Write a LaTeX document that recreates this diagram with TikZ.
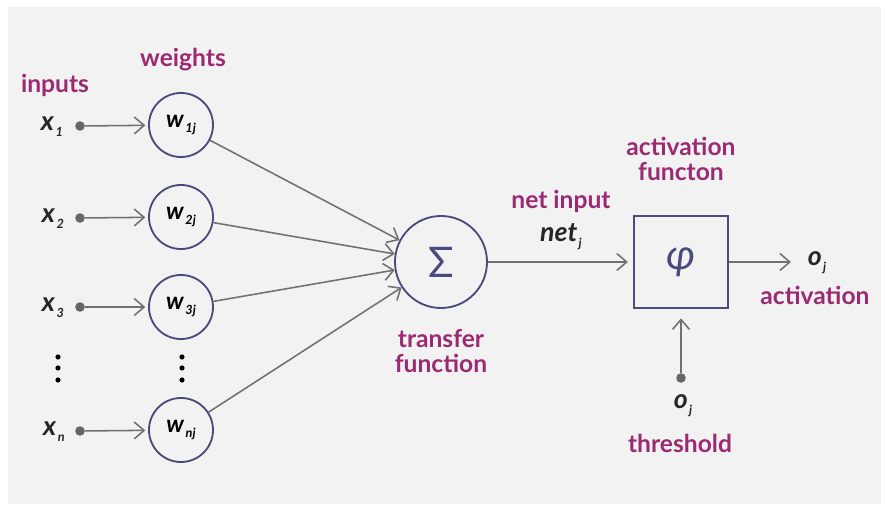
\documentclass[tikz,border=0pt]{standalone}
\usepackage{fontspec}
\setmainfont{Lato}
\usetikzlibrary{arrows.meta}

\definecolor{labelpink}{HTML}{9C2A72}
\definecolor{ringblue}{HTML}{4A4A7C}
\definecolor{wiregray}{HTML}{707070}
\definecolor{panelgray}{HTML}{F2F2F2}

\newcommand{\varsub}[2]{\textit{\textbf{#1}}\kern1pt\raisebox{-0.45ex}{\fontsize{9}{9}\selectfont\textit{\textbf{#2}}}}

\tikzset{
  caption/.style={text=labelpink,font=\fontsize{17.5}{20}\selectfont\bfseries,align=center,inner sep=0pt},
  symb/.style={text=black!85,font=\fontsize{19}{22}\selectfont,inner sep=0pt},
  weight/.style={circle,draw=ringblue,line width=1.3pt,minimum size=1.6cm,inner sep=0pt,
    font=\fontsize{17}{20}\selectfont},
  source/.style={circle,fill=black!60,minimum size=0.24cm,inner sep=0pt},
  vdot/.style={circle,fill=black,minimum size=0.13cm,inner sep=0pt},
  wire/.style={draw=wiregray,line width=1.1pt,-{Straight Barb[length=7pt,width=12pt]}}
}

\begin{document}
\begin{tikzpicture}[x=0.025cm,y=-0.025cm]
    % panel
    \fill[white] (0,0) rectangle (884,510);
    \fill[panelgray] (8,7) rectangle (881,504);

    % captions
    \node[caption] (inputs) at (55,85) {inputs};
    \node[caption] (weights) at (183,60) {weights};
    \node[caption] (netin) at (561,201) {net input};
    \node[caption] (transfer) at (441,351) {transfer\\[-2pt]function};
    \node[caption] (actfun) at (681,159) {activation\\[-2pt]functon};
    \node[caption] (actout) at (815,295) {activation};
    \node[caption] (thresh) at (680,443) {threshold};

    % inputs and weights
    \node[symb] (x1) at (52,127) {\varsub{x}{1}};
    \node[symb] (x2) at (53,219) {\varsub{x}{2}};
    \node[symb] (x3) at (53,308) {\varsub{x}{3}};
    \node[symb] (xn) at (54,432) {\varsub{x}{n}};
    \node[source] (s1) at (80,126) {};
    \node[source] (s2) at (80,218) {};
    \node[source] (s3) at (80,307) {};
    \node[source] (sn) at (80,431) {};
    \node[weight] (w1) at (181,125) {\varsub{w}{1j}};
    \node[weight] (w2) at (181,217) {\varsub{w}{2j}};
    \node[weight] (w3) at (181,307) {\varsub{w}{3j}};
    \node[weight] (wn) at (181,430) {\varsub{w}{nj}};

    % skipped rows
    \node[vdot] (xa) at (58,357) {};
    \node[vdot] (xb) at (58,368) {};
    \node[vdot] (xc) at (58,380) {};
    \node[vdot] (wa) at (182,357) {};
    \node[vdot] (wb) at (182,368) {};
    \node[vdot] (wc) at (182,380) {};

    % sum, activation
    \node[circle,draw=ringblue,line width=1.3pt,minimum size=2.3cm,inner sep=0pt,
      text=ringblue,font=\fontsize{30}{32}\selectfont] (sum) at (441,262) {Σ};
    \node[draw=ringblue,line width=1.3pt,minimum width=2.33cm,minimum height=2.28cm,
      text=ringblue,font=\fontsize{30}{32}\selectfont\itshape] (phi) at (681,262) {φ};
    \node[symb] (net) at (561,237) {\varsub{net}{j}};
    \coordinate (outend) at (791,262);
    \node[symb] (oj) at (817,263) {\varsub{o}{j}};
    \node[source] (t) at (681,378) {};
    \node[symb] (theta) at (683,406) {\varsub{o}{j}};

    % connectors
    \path (s1) edge[wire,shorten >=2pt] (w1);
    \path (s2) edge[wire,shorten >=2pt] (w2);
    \path (s3) edge[wire,shorten >=2pt] (w3);
    \path (sn) edge[wire,shorten >=2pt] (wn);
    \path (w1) edge[wire] (sum);
    \path (w2) edge[wire] (sum);
    \path (w3) edge[wire] (sum);
    \path (wn) edge[wire] (sum);
    \path (sum) edge[wire,shorten >=4pt] (phi);
    \path (phi) edge[wire] (outend);
    \path (t) edge[wire,shorten >=7pt] (phi);
  \end{tikzpicture}
\end{document}
